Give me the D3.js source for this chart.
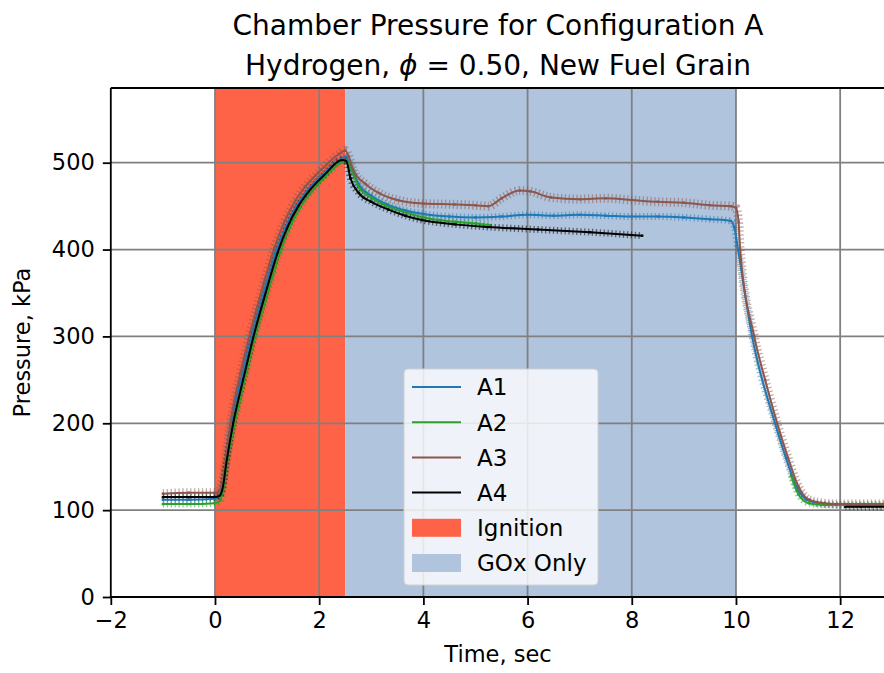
<!DOCTYPE html>
<html lang="en">
<head>
<meta charset="UTF-8">
<title>Chamber Pressure for Configuration A</title>
<script src="https://d3js.org/d3.v7.min.js"></script>
<style>
    body { margin: 0; background: #fff; }
    text { font-family: "DejaVu Sans", sans-serif; fill: #000; }
</style>
</head>
<body>
<div id="chart"></div>
<script>
// ---- data (time in s, pressure in kPa) ----
const a1 = [[-1,112],[-0.5,112],[0,113],[0.08,116],[0.14,128],[0.22,160],[0.31,200],[0.5,250],[0.7,300],
    [0.96,356],[1.16,396],[1.36,427],[1.56,450],[1.76,467],[2.06,486],[2.4,503],[2.5,507],[2.58,500],[2.75,476],[3.0,462],
    [3.3,452],[3.65,445],[4.0,441],[4.5,438],[5.0,437],[5.5,438],[6.0,440],[6.5,439],[7.0,440],[7.5,439],
    [8.0,438],[8.5,438],[9.0,437],[9.5,435],[9.9,433],[9.97,425],[10.04,400],[10.31,300],[10.75,200],
    [10.96,160],[11.16,127],[11.36,112],[11.66,107],[12.0,106],[12.4,106],[12.88,106]];
const a2 = [[-1,107],[-0.5,107],[0,108],[0.1,111],[0.16,125],[0.24,158],[0.38,200],[0.57,250],[0.77,300],
    [1.03,354],[1.23,394],[1.43,425],[1.63,448],[1.83,465],[2.13,485],[2.44,501],[2.52,503],[2.6,494],[2.76,472],[3.0,460],
    [3.3,450],[3.65,443],[4.0,437],[4.3,434],[4.6,432],[5.0,430],[5.28,428],[5.3,null],
    [11.06,140],[11.2,118],[11.4,108],[11.7,106],[12.0,106],[12.4,106],[12.88,106]];
const a3 = [[-1,119],[-0.5,120],[0,120],[0.08,122],[0.14,132],[0.22,165],[0.31,205],[0.49,258],[0.68,305],
    [0.94,362],[1.14,402],[1.34,433],[1.54,456],[1.74,473],[2.04,492],[2.38,510],[2.5,514],[2.56,508],[2.65,492],[2.9,475],
    [3.15,465],[3.5,457],[4.0,453],[4.6,452],[5.0,451],[5.25,450],[5.5,459],[5.85,468],[6.05,467],[6.45,460],
    [7.0,458],[7.5,459],[8.0,457],[8.5,455],[9.0,454],[9.5,451],[9.9,450],[10.0,448],[10.05,432],[10.08,400],
    [10.35,300],[10.56,250],[10.79,200],[11.0,160],[11.2,127],[11.4,112],[11.7,108],[12.0,107],[12.4,107],[12.88,107]];
const a4 = [[-1,115],[-0.5,115],[0,115],[0.1,117],[0.15,126],[0.22,155],[0.35,200],[0.54,250],[0.74,300],
    [1.0,356],[1.2,396],[1.4,427],[1.6,450],[1.8,467],[2.1,486],[2.44,503],[2.52,502],[2.6,482],[2.76,465],[3.0,455],
    [3.33,446],[3.65,439],[3.97,434],[4.6,429],[5.24,426],[6.2,423],[7.2,420],[8.2,416],[8.3,null],
    [12.1,104],[12.4,104],[12.88,104]];

const seriesNames = ["A1", "A2", "A3", "A4"];
const seriesColors = ["#1f77b4", "#2ca02c", "#8c564b", "#000000"];
const spanNames = ["Ignition", "GOx Only"];
const spanStart = [0, 2.5];
const spanEnd = [2.5, 10];
const spanColors = ["#ff6347", "#b0c4de"];
const xTicks = [-2, 0, 2, 4, 6, 8, 10, 12];
const yTicks = [0, 100, 200, 300, 400, 500];

const width = 884, height = 673;
const plotL = 110.8, plotR = 886, plotT = 88, plotB = 597;

const svg = d3.select("#chart").append("svg")
    .attr("width", width).attr("height", height);

const x = d3.scaleLinear().domain([-2, 12.88]).range([plotL, plotR]);
const y = d3.scaleLinear().domain([0, 586]).range([plotB, plotT]);

svg.append("clipPath").attr("id", "plot")
  .append("rect").attr("x", plotL).attr("y", plotT)
    .attr("width", plotR - plotL).attr("height", plotB - plotT);

// shaded phases
svg.selectAll("rect.span")
  .data(spanNames)
  .join("rect")
    .attr("class", "span")
    .attr("x", (d, i) => x(spanStart[i]))
    .attr("y", plotT)
    .attr("width", (d, i) => x(spanEnd[i]) - x(spanStart[i]))
    .attr("height", plotB - plotT)
    .attr("fill", (d, i) => spanColors[i]);

// grid
const grid = svg.append("g").attr("stroke", "#808080").attr("stroke-width", 1.8);
grid.selectAll("line.gx").data(xTicks.filter(t => t > -2)).join("line")
    .attr("x1", d => x(d)).attr("x2", d => x(d)).attr("y1", plotT).attr("y2", plotB);
grid.selectAll("line.gy").data(yTicks.filter(t => t > 0)).join("line")
    .attr("y1", d => y(d)).attr("y2", d => y(d)).attr("x1", plotL).attr("x2", plotR);

const all = [a1, a2, a3, a4];
const line = d3.line()
    .defined(d => d[1] != null)
    .x(d => x(d[0])).y(d => y(d[1]))
    .curve(d3.curveMonotoneX);

const data = svg.append("g").attr("clip-path", "url(#plot)");

// measurement scatter drawn as a dashed band along each trace
all.forEach((s, i) => {
    data.append("path")
        .attr("d", line(s))
        .attr("fill", "none")
        .attr("stroke", seriesColors[i])
        .attr("stroke-width", i === 2 ? 9 : 7)
        .attr("stroke-dasharray", "1.3 2.6")
        .attr("opacity", 0.5);
    data.selectAll(null).data(s.filter(d => d[1] != null)).join("rect")
        .attr("x", d => x(d[0]) - 1.2).attr("y", d => y(d[1]) - 1.2)
        .attr("width", 2.4).attr("height", 2.4)
        .attr("fill", seriesColors[i]);
});
all.forEach((s, i) => {
    data.append("path")
        .attr("d", line(s))
        .attr("fill", "none")
        .attr("stroke", seriesColors[i])
        .attr("stroke-width", 2);
});

// axes
const xAxis = svg.append("g")
    .attr("transform", `translate(0,${plotB})`)
    .call(d3.axisBottom(x).tickValues(xTicks).tickSize(8).tickPadding(7)
        .tickFormat(d => d < 0 ? "\u2212" + Math.abs(d) : d));
const yAxis = svg.append("g")
    .attr("transform", `translate(${plotL},0)`)
    .call(d3.axisLeft(y).tickValues(yTicks).tickSize(8).tickPadding(8));
[xAxis, yAxis].forEach(a => {
    a.select(".domain").remove();
    a.selectAll(".tick line").attr("stroke", "#000").attr("stroke-width", 1.8);
    a.selectAll(".tick text").attr("font-size", 22.5).attr("font-family", "DejaVu Sans");
});
svg.append("path")
    .attr("d", `M${plotL},${plotT}H${plotR + 5}M${plotL},${plotT}V${plotB}H${plotR + 5}`)
    .attr("fill", "none").attr("stroke", "#000").attr("stroke-width", 1.8);

// titles
svg.append("text").attr("x", 498).attr("y", 35).attr("text-anchor", "middle")
    .attr("font-size", 28).text("Chamber Pressure for Configuration A");
const sub = svg.append("text").attr("x", 498).attr("y", 75).attr("text-anchor", "middle")
    .attr("font-size", 28);
sub.append("tspan").text("Hydrogen, ");
sub.append("tspan").attr("font-style", "italic").text("\u03d5");
sub.append("tspan").text(" = 0.50, New Fuel Grain");

svg.append("text").attr("x", 498).attr("y", 662).attr("text-anchor", "middle")
    .attr("font-size", 22.5).text("Time, sec");
svg.append("text").attr("transform", `translate(30,${(plotT + plotB) / 2}) rotate(-90)`)
    .attr("text-anchor", "middle").attr("font-size", 22.5).text("Pressure, kPa");

// legend
const lg = svg.append("g").attr("transform", "translate(404,369)");
lg.append("rect").attr("width", 194).attr("height", 216).attr("rx", 4)
    .attr("fill", "#fff").attr("fill-opacity", 0.8)
    .attr("stroke", "#d0d0d0").attr("stroke-width", 1);
seriesNames.forEach((n, i) => {
    const yy = 18 + i * 35.2;
    lg.append("line").attr("x1", 8).attr("x2", 57).attr("y1", yy).attr("y2", yy)
        .attr("stroke", seriesColors[i]).attr("stroke-width", 2);
    lg.append("text").attr("x", 73).attr("y", yy + 8.4).attr("font-size", 23).text(n);
});
spanNames.forEach((n, i) => {
    const yy = 18 + (i + 4) * 35.2;
    lg.append("rect").attr("x", 8).attr("y", yy - 9).attr("width", 49).attr("height", 18)
        .attr("fill", spanColors[i]);
    lg.append("text").attr("x", 73).attr("y", yy + 8.4).attr("font-size", 23).text(n);
});
</script>
</body>
</html>
